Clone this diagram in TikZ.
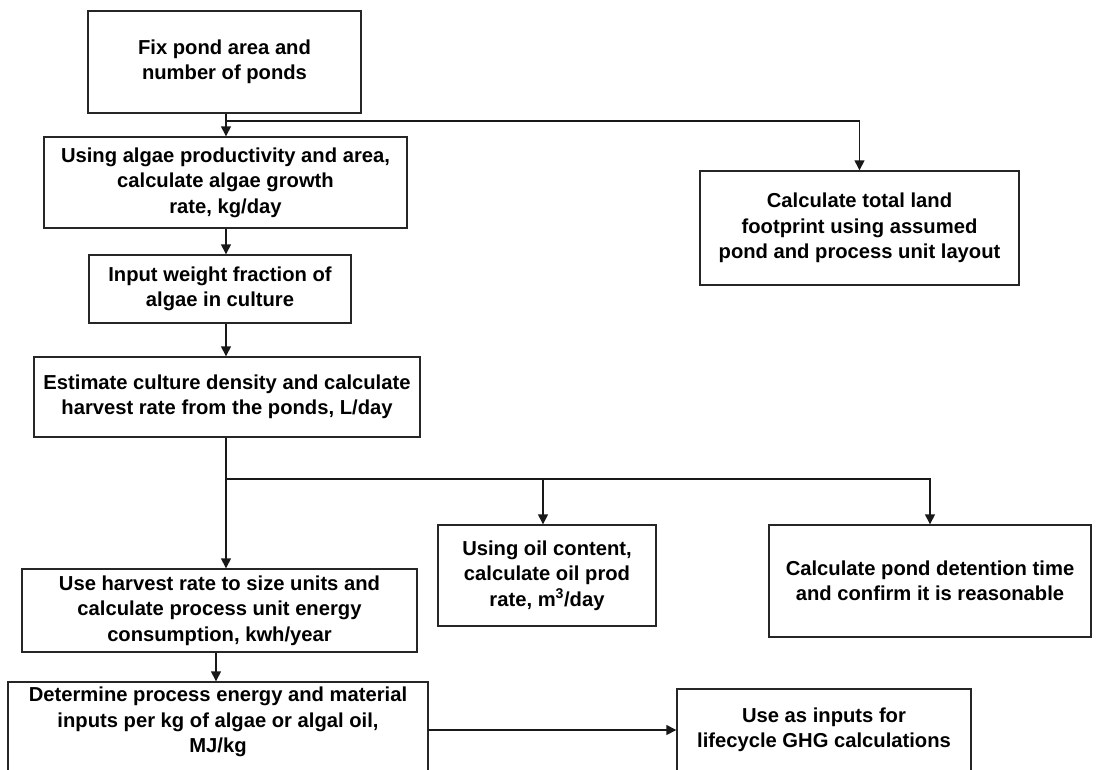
\documentclass[tikz,border=0pt]{standalone}
\usepackage{fontspec}
\setmainfont{Liberation Sans}
\usetikzlibrary{arrows.meta}
\begin{document}
\begin{tikzpicture}[x=1pt,y=-1pt,
  txt/.style={align=center, inner sep=0pt, text=black,
    font=\bfseries\fontsize{20.2}{25.5}\selectfont},
  box/.style={txt, draw=black!85, line width=1.4pt},
  arr/.style={line width=1.4pt, draw=black!90, -{Triangle[length=10pt,width=10pt]}},
  ln/.style={line width=1.4pt, draw=black!90}]
\useasboundingbox (0,0) rectangle (1099,769);
\clip (0,0) rectangle (1099,769);
% boxes
\node[box, minimum width=273pt, minimum height=102pt] (b1) at (224.5,62) {Fix pond area and\\number of ponds};
\node[box, minimum width=363pt, minimum height=91pt] (b2) at (225.5,182.5) {Using algae productivity and area,\\calculate algae growth\\rate, kg/day};
\node[box, minimum width=319pt, minimum height=114pt] (land) at (859.5,228) {Calculate total land\\footprint using assumed\\pond and process unit layout};
\node[box, minimum width=262pt, minimum height=68pt] (b3) at (220,289) {Input weight fraction of\\algae in culture};
\node[box, minimum width=386pt, minimum height=80pt] (b4) at (227,397) {Estimate culture density and calculate\\harvest rate from the ponds, L/day};
\node[box, minimum width=395pt, minimum height=83pt] (b5) at (219.5,610.5) {Use harvest rate to size units and\\calculate process unit energy\\consumption, kwh/year};
\node[box, minimum width=218pt, minimum height=101pt] (oil) at (547,575.5) {Using oil content,\\calculate oil prod\\rate, m\textsuperscript{3}/day};
\node[box, minimum width=322pt, minimum height=112pt] (det) at (930,581) {Calculate pond detention time\\and confirm it is reasonable};
\node[box, minimum width=420pt, minimum height=120pt] (b6) at (218,742) {};
\node[txt] (b6t) at (218,722) {Determine process energy and material\\inputs per kg of algae or algal oil,\\MJ/kg};
\node[box, minimum width=294pt, minimum height=82pt] (ghg) at (824,730) {Use as inputs for\\lifecycle GHG calculations};
% junctions
\coordinate (j1) at (226,121);
\coordinate (j2) at (226,479);
\coordinate (o2) at (543,479);
\coordinate (a6) at (428,730);
\coordinate (k5) at (216,650);
% connectors
\draw[arr] (j1 |- b1.south) -- (j1 |- b2.north);
\draw[arr] (j1) -| (land.north);
\draw[arr] (j1 |- b2.south) -- (j1 |- b3.north);
\draw[arr] (j1 |- b3.south) -- (j1 |- b4.north);
\draw[arr] (j2 |- b4.south) -- (j2 |- b5.north);
\draw[arr] (j2) -| (det.north);
\draw[arr] (o2) -- (o2 |- oil.north);
\draw[arr] (k5 |- b5.south) -- (k5 |- b6.north);
\draw[arr] (a6) -- (a6 -| ghg.west);
\end{tikzpicture}
\end{document}
